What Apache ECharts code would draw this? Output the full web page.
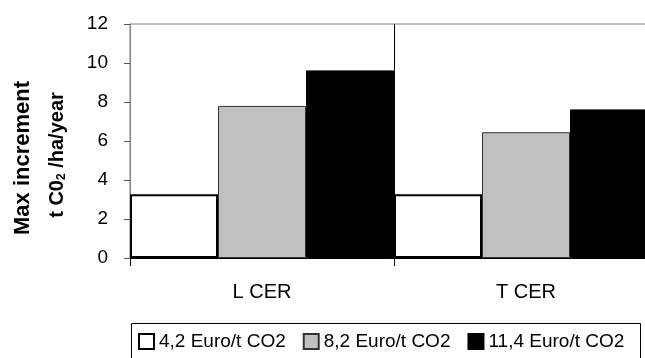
<!DOCTYPE html>
<html>
<head>
<meta charset="utf-8">
<script src="https://cdn.jsdelivr.net/npm/echarts@6/dist/echarts.min.js"></script>
<style>html,body{margin:0;padding:0;background:#fff;}#c{width:645px;height:358px;}</style>
</head>
<body>
<div id="c"></div>
<script>
var categories = ['L CER', 'T CER'];
var seriesNames = ['4,2 Euro/t CO2', '8,2 Euro/t CO2', '11,4 Euro/t CO2'];
var low = [3.27, 3.27];
var mid = [7.8, 6.45];
var high = [9.62, 7.62];
var yTicks = [0, 2, 4, 6, 8, 10, 12];

var font = 'Liberation Sans, Arial, sans-serif';
var chart = echarts.init(document.getElementById('c'));
chart.setOption({
  animation: false,
  backgroundColor: '#fff',
  textStyle: {fontFamily: font},
  grid: {left: 130, top: 24, width: 528, height: 234, show: true, borderColor: '#808080', borderWidth: 1,
         containLabel: false, outerBoundsMode: 'none'},
  legend: {
    left: 138, top: 332, width: 505,
    data: seriesNames,
    itemWidth: 15, itemHeight: 15, itemGap: 17,
    padding: 0,
    textStyle: {fontSize: 19, color: '#000', fontFamily: font},
    icon: 'rect'
  },
  xAxis: {
    type: 'category', data: categories, boundaryGap: true,
    axisLine: {lineStyle: {color: '#000', width: 1}},
    axisTick: {show: true, length: 8, lineStyle: {color: '#000'}},
    splitLine: {show: true, lineStyle: {color: '#000', width: 1}},
    axisLabel: {fontSize: 20, color: '#000', margin: 24, fontFamily: font}
  },
  yAxis: {
    type: 'value', min: yTicks[0], max: yTicks[yTicks.length - 1], interval: 2,
    axisLine: {show: true, lineStyle: {color: '#808080'}},
    axisTick: {show: true, length: 6, lineStyle: {color: '#555'}},
    splitLine: {show: false},
    axisLabel: {fontSize: 19, color: '#000', margin: 22, fontFamily: font}
  },
  graphic: [
    {type: 'rect', shape: {x: 131.5, y: 323.5, width: 509, height: 60},
     style: {fill: 'none', stroke: '#000', lineWidth: 1}, silent: true},
    {type: 'text', x: 23, y: 158, rotation: Math.PI / 2,
     style: {text: 'Max increment', font: 'bold 22px ' + font, fill: '#000', textAlign: 'center', textVerticalAlign: 'middle'}},
    {type: 'text', x: 57, y: 155, rotation: Math.PI / 2,
     style: {text: 't C0{s|2} /ha/year', font: 'bold 20px ' + font, fill: '#000', textAlign: 'center', textVerticalAlign: 'middle',
       rich: {s: {fontSize: 12, fontWeight: 'bold', fontFamily: font, verticalAlign: 'bottom', padding: [10, 0, 0, 0]}}}}
  ],
  series: [
    {name: seriesNames[0], type: 'bar', data: low, barGap: '0%', barCategoryGap: '0%',
     itemStyle: {color: '#fff', borderColor: '#000', borderWidth: 2}},
    {name: seriesNames[1], type: 'bar', data: mid, barGap: '0%', barCategoryGap: '0%',
     itemStyle: {color: '#c0c0c0', borderColor: '#333', borderWidth: 1}},
    {name: seriesNames[2], type: 'bar', data: high, barGap: '0%', barCategoryGap: '0%',
     itemStyle: {color: '#000', borderColor: '#000', borderWidth: 1}}
  ]
});
</script>
</body>
</html>
